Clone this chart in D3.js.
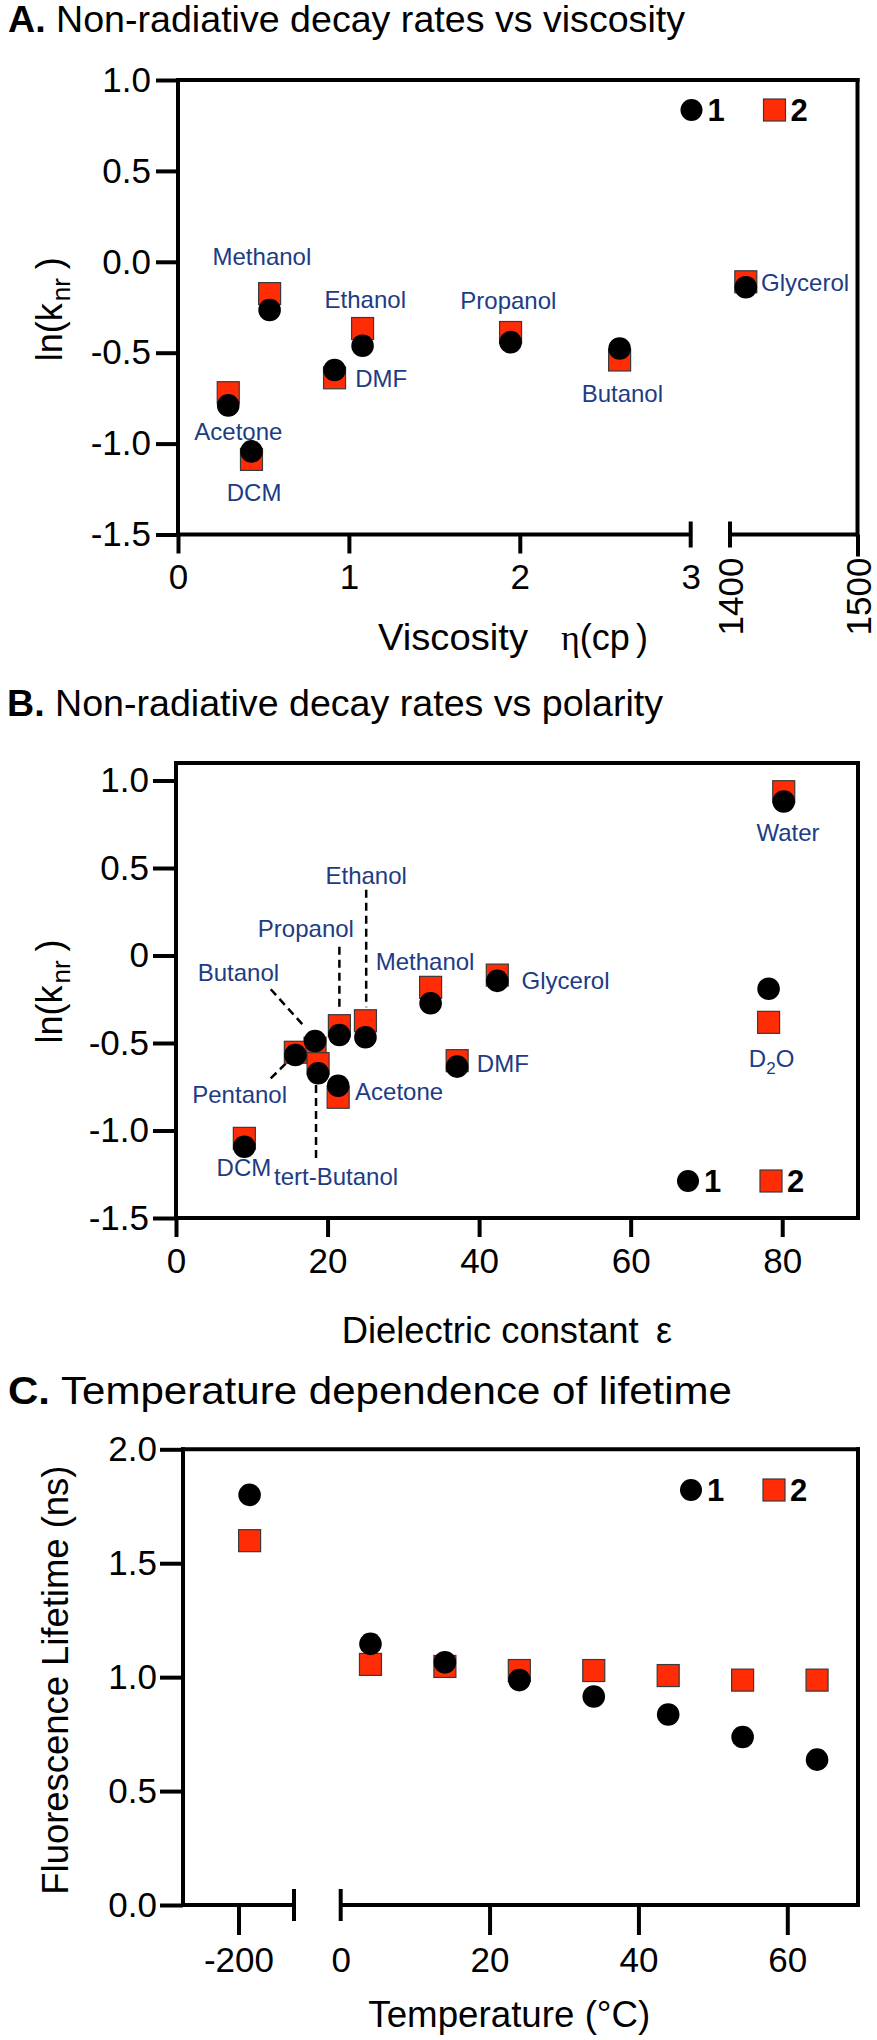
<!DOCTYPE html>
<html><head><meta charset="utf-8">
<script src="https://cdn.jsdelivr.net/npm/d3@7"></script>
<style>
body{margin:0;background:#fff}
svg text{font-family:"Liberation Sans",Arial,Helvetica,sans-serif}
</style></head><body>
<script>
// ---------------- DATA ----------------
// Panel A: ln(knr) vs viscosity
const solventsA = ["Acetone","DCM","Methanol","DMF","Ethanol","Propanol","Butanol","Glycerol"];
const viscosityA = [0.294, 0.43, 0.536, 0.916, 1.08, 1.946, 2.584, 1412.4];
const lnKnrA_1 = [-0.79, -1.043, -0.265, -0.595, -0.462, -0.442, -0.477, -0.14];
const lnKnrA_2 = [-0.72, -1.087, -0.175, -0.638, -0.367, -0.389, -0.54, -0.11];
const yTicksA = [1.0, 0.5, 0.0, -0.5, -1.0, -1.5];
const xTicksA1 = [0, 1, 2, 3];
const xTicksA2 = [1400, 1500];
// label anchors (data units)
const labelsA = [
  {t:"Methanol", x:0.491, y:-0.02, a:"middle"},
  {t:"Ethanol", x:1.096, y:-0.252, a:"middle"},
  {t:"DMF", x:1.037, y:-0.69, a:"start"},
  {t:"Propanol", x:1.933, y:-0.262, a:"middle"},
  {t:"Butanol", x:2.6, y:-0.773, a:"middle"},
  {t:"Glycerol", x:1424.4, y:-0.163, a:"start"},
  {t:"Acetone", x:0.353, y:-0.98, a:"middle"},
  {t:"DCM", x:0.445, y:-1.313, a:"middle"}
];

// Panel B: ln(knr) vs dielectric constant
const solventsB = ["Water","D2O","Glycerol","Methanol","DMF","Ethanol","Propanol","Butanol","Pentanol","tert-Butanol","Acetone","DCM"];
const dielectricB = [80.2, 78.2, 42.4, 33.6, 37.1, 25.0, 21.56, 18.35, 15.75, 18.75, 21.4, 9.02];
const lnKnrB_1 = [0.88, -0.19, -0.145, -0.273, -0.635, -0.467, -0.454, -0.489, -0.569, -0.673, -0.744, -1.093];
const lnKnrB_2 = [0.936, -0.382, -0.112, -0.182, -0.601, -0.373, -0.401, -0.53, -0.553, -0.618, -0.81, -1.045];
const yTicksB = [1.0, 0.5, 0, -0.5, -1.0, -1.5];
const xTicksB = [0, 20, 40, 60, 80];
const labelsB = [
  {t:"Water", x:80.77, y:0.655, a:"middle"},
  {t:"Ethanol", x:25.1, y:0.407, a:"middle"},
  {t:"Propanol", x:17.14, y:0.107, a:"middle"},
  {t:"Methanol", x:32.87, y:-0.083, a:"middle"},
  {t:"Butanol", x:8.23, y:-0.146, a:"middle"},
  {t:"Glycerol", x:45.6, y:-0.19, a:"start"},
  {t:"DMF", x:39.7, y:-0.663, a:"start"},
  {t:"D2O", x:78.6, y:-0.638, a:"middle"},
  {t:"Pentanol", x:8.4, y:-0.841, a:"middle"},
  {t:"Acetone", x:23.63, y:-0.826, a:"start"},
  {t:"DCM", x:8.96, y:-1.26, a:"middle"},
  {t:"tert-Butanol", x:12.94, y:-1.31, a:"start"}
];
// dashed leader lines [x1,y1,x2,y2] (data units)
const leadersB = [
  [25.1, 0.376, 25.1, -0.296],
  [21.56, 0.05, 21.56, -0.31],
  [12.5, -0.193, 17.03, -0.41],
  [12.5, -0.702, 14.52, -0.616],
  [18.48, -0.74, 18.48, -1.183]
];

// Panel C: lifetime vs temperature
const temperatureC = [-196, 4, 14, 24, 34, 44, 54, 64];
const lifetimeC_1 = [1.80, 1.146, 1.065, 0.987, 0.915, 0.836, 0.737, 0.638];
const lifetimeC_2 = [1.599, 1.056, 1.047, 1.029, 1.029, 1.007, 0.987, 0.987];
const yTicksC = [2.0, 1.5, 1.0, 0.5, 0.0];
const xTicksC1 = [-200];
const xTicksC2 = [0, 20, 40, 60];

// ---------------- STYLE ----------------
const SERIF = '"Liberation Serif","DejaVu Serif",serif';
const LABEL_COLOR = "#1d3c84";
const SQ_FILL = "#ff2c06", SQ_STROKE = "#3a3a3a";
const LW = 4, TICK_FS = 35, TITLE_FS = 36, LBL_FS = 24;

const svg = d3.select("body").append("svg").attr("width", 877).attr("height", 2040);

function fmt1(d){ return d3.format(".1f")(d).replace("\u2212","-"); }
function line(x1,y1,x2,y2,cap){
  svg.append("line").attr("x1",x1).attr("y1",y1).attr("x2",x2).attr("y2",y2)
    .attr("stroke","#000").attr("stroke-width",LW).attr("stroke-linecap",cap||"square");
}
function styleAxis(g){
  g.attr("font-family",'"Liberation Sans",Arial,Helvetica,sans-serif').attr("font-size",TICK_FS);
  g.select(".domain").remove();
  g.selectAll(".tick line").attr("stroke","#000").attr("stroke-width",LW);
  g.selectAll(".tick text").attr("fill","#000");
  return g;
}
function title(x,y,bold,rest,len,fs){
  const t = svg.append("text").attr("x",x).attr("y",y).attr("font-size",fs||TITLE_FS)
    .attr("textLength",len).attr("lengthAdjust","spacingAndGlyphs");
  t.append("tspan").attr("font-weight","bold").text(bold);
  t.append("tspan").text(rest);
}
function points(xs, y1s, y2s, xf, yf){
  const g = svg.append("g");
  g.selectAll("rect").data(xs).join("rect")
    .attr("x",(d,i)=>xf(d)-11).attr("y",(d,i)=>yf(y2s[i])-11)
    .attr("width",22).attr("height",22)
    .attr("fill",SQ_FILL).attr("stroke",SQ_STROKE).attr("stroke-width",1.2);
  g.selectAll("circle").data(xs).join("circle")
    .attr("cx",d=>xf(d)).attr("cy",(d,i)=>yf(y1s[i])).attr("r",11.3).attr("fill","#000");
}
function legend(x0,y0){
  svg.append("circle").attr("cx",x0).attr("cy",y0).attr("r",11).attr("fill","#000");
  svg.append("text").attr("x",x0+16).attr("y",y0+11).attr("font-size",31).attr("font-weight","bold").text("1");
  svg.append("rect").attr("x",x0+83-11).attr("y",y0-11).attr("width",22).attr("height",22)
    .attr("fill",SQ_FILL).attr("stroke",SQ_STROKE).attr("stroke-width",1.2);
  svg.append("text").attr("x",x0+99).attr("y",y0+11).attr("font-size",31).attr("font-weight","bold").text("2");
}
function labels(list, xf, yf){
  list.forEach(l=>{
    const t = svg.append("text").attr("x",xf(l.x)).attr("y",yf(l.y))
      .attr("font-size",LBL_FS).attr("fill",LABEL_COLOR).attr("text-anchor",l.a);
    if(l.t==="D2O"){
      t.append("tspan").text("D");
      t.append("tspan").attr("font-size",17).attr("dy",7).text("2");
      t.append("tspan").attr("dy",-7).text("O");
    } else t.text(l.t);
  });
}
function lnTitle(x,y){
  const t = svg.append("text").attr("transform",`translate(${x},${y}) rotate(-90)`)
    .attr("text-anchor","middle").attr("font-size",TITLE_FS);
  t.append("tspan").text("ln(k");
  t.append("tspan").attr("font-size",26).attr("dy",8).attr("dx",2).text("nr");
  t.append("tspan").attr("dy",-8).attr("dx",9).text(")");
}

// ================= PANEL A =================
const A = {l:178, r:857.5, t:80, b:534.5};
const yA = d3.scaleLinear().domain([-1.5,1.0]).range([A.b,A.t]);
const xA1 = d3.scaleLinear().domain([0,3]).range([A.l,690.7]);
const xA2 = d3.scaleLinear().domain([1400,1500]).range([730,A.r]);
const xA = v => v<=3 ? xA1(v) : xA2(v);

title(8, 31.7, "A.", " Non-radiative decay rates vs viscosity", 677);

styleAxis(svg.append("g").attr("transform",`translate(${A.l},0)`)
  .call(d3.axisLeft(yA).tickValues(yTicksA).tickSize(22).tickPadding(5).tickFormat(fmt1)));
const gA1 = styleAxis(svg.append("g").attr("transform",`translate(0,${A.b})`)
  .call(d3.axisBottom(xA1).tickValues(xTicksA1).tickSize(19).tickPadding(11).tickFormat(d3.format("d"))));
gA1.selectAll(".tick").filter(d=>d===3).select("line").remove();
const gA2 = styleAxis(svg.append("g").attr("transform",`translate(0,${A.b})`)
  .call(d3.axisBottom(xA2).tickValues(xTicksA2).tickSize(22).tickPadding(0).tickFormat(d3.format("d"))));
gA2.selectAll(".tick").filter(d=>d===1400).select("line").remove();
gA2.selectAll(".tick text").attr("transform","rotate(-90)").attr("text-anchor","end")
  .attr("x",-23).attr("y",0).attr("dy","0.36em");

line(A.l,A.t,A.r,A.t); line(A.l,A.t,A.l,A.b); line(A.r,A.t,A.r,A.b);
line(A.l,A.b,xA1(3),A.b,"butt"); line(xA2(1400),A.b,A.r,A.b,"butt");
line(xA1(3),A.b-13,xA1(3),A.b+13,"butt"); line(xA2(1400),A.b-13,xA2(1400),A.b+13,"butt");

points(viscosityA, lnKnrA_1, lnKnrA_2, xA, yA);
labels(labelsA, xA, yA);
legend(A.r-166, A.t+30);
lnTitle(62, (A.t+A.b)/2+2);
svg.append("text").attr("x",378).attr("y",650).attr("font-size",TITLE_FS)
  .attr("textLength",150).attr("lengthAdjust","spacingAndGlyphs").text("Viscosity");
{
  const t = svg.append("text").attr("y",650).attr("font-size",TITLE_FS);
  t.append("tspan").attr("x",561).attr("font-family",SERIF).text("\u03B7");
  t.append("tspan").text("(cp");
  t.append("tspan").attr("x",636).text(")");
}

// ================= PANEL B =================
const B = {l:176, r:858, t:763, b:1218};
const yB = d3.scaleLinear().domain([-1.5,1.1]).range([B.b,B.t]);
const xB = d3.scaleLinear().domain([0,90]).range([B.l,B.r]);

title(7, 716, "B.", " Non-radiative decay rates vs polarity", 656);

styleAxis(svg.append("g").attr("transform",`translate(${B.l},0)`)
  .call(d3.axisLeft(yB).tickValues(yTicksB).tickSize(23).tickPadding(4)
    .tickFormat(d=> d===0 ? "0" : fmt1(d))));
styleAxis(svg.append("g").attr("transform",`translate(0,${B.b})`)
  .call(d3.axisBottom(xB).tickValues(xTicksB).tickSize(19).tickPadding(11).tickFormat(d3.format("d"))));

line(B.l,B.t,B.r,B.t); line(B.l,B.t,B.l,B.b); line(B.r,B.t,B.r,B.b); line(B.l,B.b,B.r,B.b);

svg.append("g").selectAll("line").data(leadersB).join("line")
  .attr("x1",d=>xB(d[0])).attr("y1",d=>yB(d[1])).attr("x2",d=>xB(d[2])).attr("y2",d=>yB(d[3]))
  .attr("stroke","#000").attr("stroke-width",2.5).attr("stroke-dasharray","8,5");

points(dielectricB, lnKnrB_1, lnKnrB_2, xB, yB);
labels(labelsB, xB, yB);
legend(B.r-170, B.b-37);
lnTitle(62, (B.t+B.b)/2+1);
svg.append("text").attr("x",341.7).attr("y",1342.7).attr("font-size",TITLE_FS)
  .attr("textLength",297).attr("lengthAdjust","spacingAndGlyphs").text("Dielectric constant");
svg.append("text").attr("x",656).attr("y",1342.7).attr("font-size",TITLE_FS)
  .attr("font-family",SERIF).text("\u03B5");

// ================= PANEL C =================
const C = {l:183, r:858, t:1449.3, b:1905};
const yC = d3.scaleLinear().domain([0,2]).range([C.b,C.t]);
const xC1 = d3.scaleLinear().domain([-220,-180]).range([C.l,294]);
const xC2 = d3.scaleLinear().domain([0,69.5]).range([340.7,C.r]);
const xC = v => v < -100 ? xC1(v) : xC2(v);

title(8, 1404, "C.", " Temperature dependence of lifetime", 724, 39);

styleAxis(svg.append("g").attr("transform",`translate(${C.l},0)`)
  .call(d3.axisLeft(yC).tickValues(yTicksC).tickSize(23).tickPadding(3).tickFormat(fmt1)));
styleAxis(svg.append("g").attr("transform",`translate(0,${C.b})`)
  .call(d3.axisBottom(xC1).tickValues(xTicksC1).tickSize(30).tickPadding(12).tickFormat(d=>String(d))));
const gC2 = styleAxis(svg.append("g").attr("transform",`translate(0,${C.b})`)
  .call(d3.axisBottom(xC2).tickValues(xTicksC2).tickSize(30).tickPadding(12).tickFormat(d3.format("d"))));
gC2.selectAll(".tick").filter(d=>d===0).select("line").remove();

line(C.l,C.t,C.r,C.t); line(C.l,C.t,C.l,C.b); line(C.r,C.t,C.r,C.b);
line(C.l,C.b,xC1(-180),C.b,"butt"); line(xC2(0),C.b,C.r,C.b,"butt");
line(xC1(-180),C.b-16,xC1(-180),C.b+16,"butt"); line(xC2(0),C.b-16,xC2(0),C.b+16,"butt");

points(temperatureC, lifetimeC_1, lifetimeC_2, xC, yC);
legend(C.r-167, C.t+40.7);
svg.append("text").attr("transform",`translate(68,${(C.t+C.b)/2+3}) rotate(-90)`)
  .attr("text-anchor","middle").attr("font-size",TITLE_FS)
  .attr("textLength",429).attr("lengthAdjust","spacingAndGlyphs").text("Fluorescence Lifetime (ns)");
svg.append("text").attr("x",368.3).attr("y",2026.7).attr("font-size",TITLE_FS)
  .attr("textLength",282).attr("lengthAdjust","spacingAndGlyphs").text("Temperature (\u00B0C)");
</script>
</body></html>
